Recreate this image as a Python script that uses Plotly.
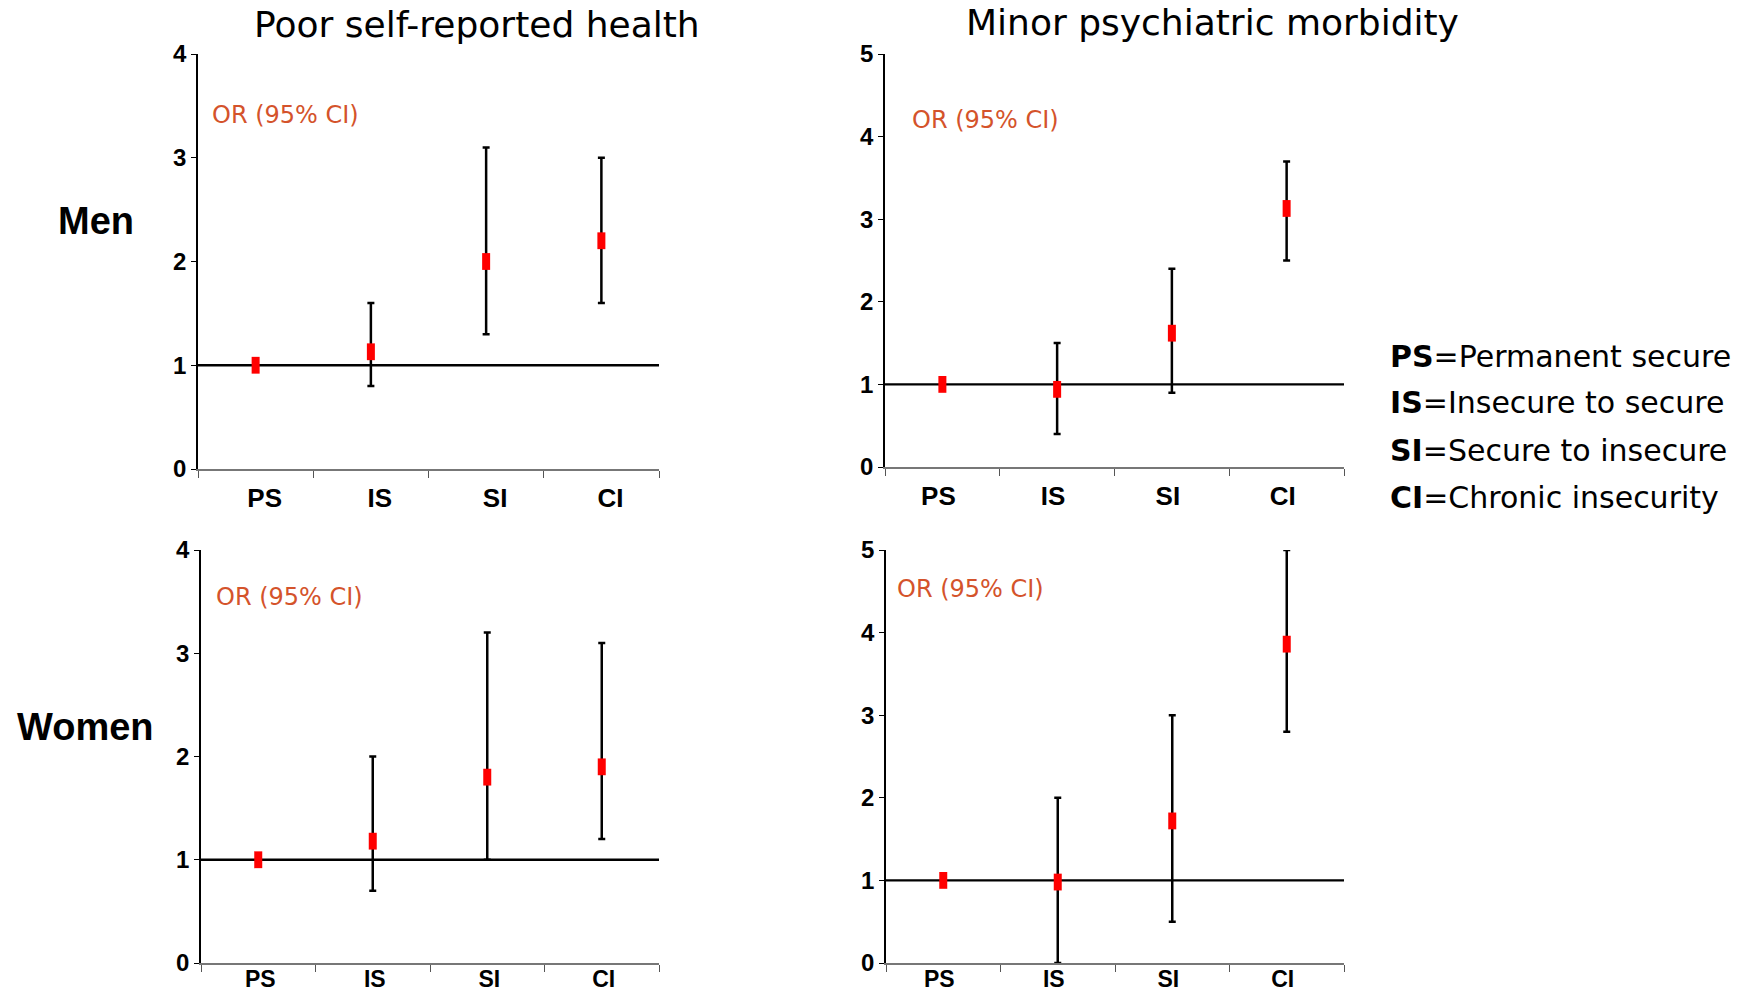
import plotly.graph_objects as go

# Job-security trajectory categories (x axis)
categories = ["PS", "IS", "SI", "CI"]

# Odds ratios with 95% confidence limits
men_health_or = [1.0, 1.13, 2.0, 2.2]
men_health_low = [1.0, 0.8, 1.3, 1.6]
men_health_high = [1.0, 1.6, 3.1, 3.0]

men_psych_or = [1.0, 0.94, 1.62, 3.13]
men_psych_low = [1.0, 0.4, 0.9, 2.5]
men_psych_high = [1.0, 1.5, 2.4, 3.7]

women_health_or = [1.0, 1.18, 1.8, 1.9]
women_health_low = [1.0, 0.7, 1.0, 1.2]
women_health_high = [1.0, 2.0, 3.2, 3.1]

women_psych_or = [1.0, 0.98, 1.72, 3.86]
women_psych_low = [1.0, 0.0, 0.5, 2.8]
women_psych_high = [1.0, 2.0, 3.0, 5.0]

column_titles = ["Poor self-reported health", "Minor psychiatric morbidity"]
row_titles = ["Men", "Women"]
legend_lines = [
    ("PS", "Permanent secure"),
    ("IS", "Insecure to secure"),
    ("SI", "Secure to insecure"),
    ("CI", "Chronic insecurity"),
]

W, H = 1744, 996
BODY_FONT = "DejaVu Sans"
AXIS_FONT = "Liberation Sans"
OR_COLOR = "#d4532b"

panels = [
    # (suffix, or, low, high, x-domain px, y-domain px, y max,
    #  label shift, label size, label standoff)
    ("", men_health_or, men_health_low, men_health_high, (198, 659), (54, 469), 4, 9, 26, 5),
    ("2", men_psych_or, men_psych_low, men_psych_high, (885, 1344), (54, 467), 5, -4, 26, 5),
    ("3", women_health_or, women_health_low, women_health_high, (201, 659), (550, 963), 4, 2, 23, -5),
    ("4", women_psych_or, women_psych_low, women_psych_high, (886, 1344), (550, 963), 5, -4, 23, -5),
]

fig = go.Figure()
layout = {}
shapes = []

for suffix, or_vals, lo, hi, xd, yd, ymax, shift, lsize, lstand in panels:
    xa = "x" + suffix
    ya = "y" + suffix
    err_plus = [h - o for h, o in zip(hi, or_vals)]
    err_minus = [o - l for o, l in zip(or_vals, lo)]
    fig.add_trace(go.Scatter(
        x=categories, y=or_vals, xaxis=xa, yaxis=ya, mode="markers",
        marker=dict(symbol="line-ns", size=12, color="#ff0000",
                    line=dict(color="#ff0000", width=8)),
        error_y=dict(type="data", symmetric=False, array=err_plus,
                     arrayminus=err_minus, color="black", thickness=2.5, width=3.5),
        cliponaxis=False, showlegend=False, hoverinfo="skip",
    ))
    # OR = 1 reference line
    shapes.append(dict(type="line", xref=xa + " domain", yref=ya,
                       x0=0, x1=1, y0=1, y1=1, layer="below",
                       line=dict(color="black", width=2.4)))
    layout["xaxis" + suffix] = dict(
        domain=[xd[0] / W, xd[1] / W], anchor=ya, type="category", automargin=False,
        range=[-0.5, 3.5], tickson="boundaries", ticks="outside", ticklen=7,
        tickcolor="#555", tickwidth=1.2, showline=True, linecolor="#777",
        linewidth=1.5, showgrid=False, zeroline=False, ticklabelshift=shift,
        ticklabelstandoff=lstand,
        tickfont=dict(family=AXIS_FONT, size=lsize, color="black", weight="bold"),
    )
    layout["yaxis" + suffix] = dict(
        domain=[1 - yd[1] / H, 1 - yd[0] / H], anchor=xa, range=[0, ymax],
        automargin=False, dtick=1, ticks="outside", ticklen=5, tickcolor="black",
        tickwidth=1.2, showline=True, linecolor="black", linewidth=1.8,
        showgrid=False, zeroline=False,
        tickfont=dict(family=AXIS_FONT, size=24, color="black", weight="bold"),
    )

annotations = []
# Column headings
for text, xc, yc in zip(column_titles, [477, 1212], [25, 23]):
    annotations.append(dict(text=text, x=xc / W, y=1 - yc / H, xref="paper", yref="paper",
                            xanchor="center", yanchor="middle", showarrow=False,
                            font=dict(family=BODY_FONT, size=36, color="black")))
# Row headings
for text, xc, yc in zip(row_titles, [96, 85], [221, 727]):
    annotations.append(dict(text=text, x=xc / W, y=1 - yc / H, xref="paper", yref="paper",
                            xanchor="center", yanchor="middle", showarrow=False,
                            font=dict(family=AXIS_FONT, size=38, color="black", weight="bold")))
# "OR (95% CI)" labels inside each panel
for xl, yc in [(210, 115), (910, 120), (214, 597), (895, 589)]:
    annotations.append(dict(text="OR (95% CI)", x=xl / W, y=1 - yc / H, xref="paper",
                            yref="paper", xanchor="left", yanchor="middle", showarrow=False,
                            font=dict(family=BODY_FONT, size=24, color=OR_COLOR)))
# Abbreviation key
for (abbr, meaning), yc in zip(legend_lines, [356, 403, 450, 497]):
    annotations.append(dict(text=f"<b>{abbr}</b>=" + meaning, x=1388 / W, y=1 - yc / H,
                            xref="paper", yref="paper", xanchor="left", yanchor="middle",
                            showarrow=False,
                            font=dict(family=BODY_FONT, size=30, color="black")))

fig.update_layout(
    width=W, height=H, margin=dict(l=0, r=0, t=0, b=0, autoexpand=False),
    paper_bgcolor="white", plot_bgcolor="white",
    shapes=shapes, annotations=annotations, **layout,
)

fig.write_html("out.html")
